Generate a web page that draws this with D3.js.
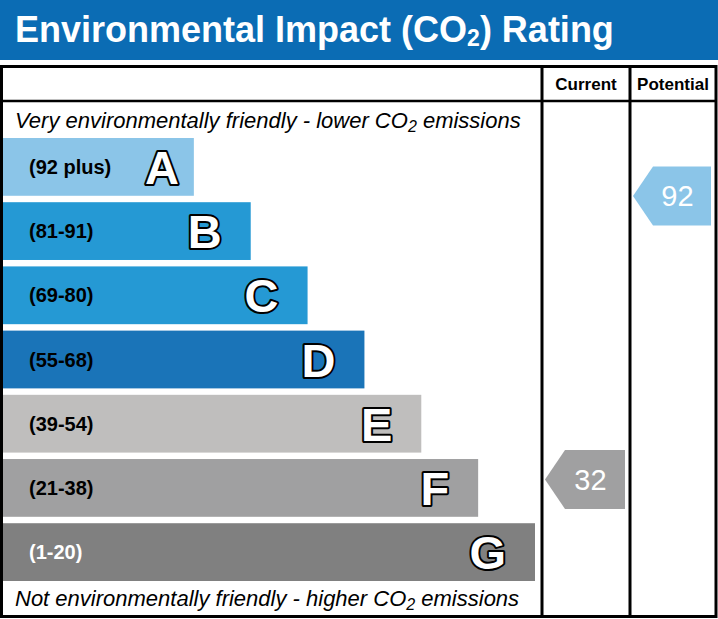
<html>
<head>
<meta charset="utf-8">
<style>
  body { margin: 0; background: #fff; }
  svg text { font-family: "Liberation Sans", Arial, sans-serif; }
</style>
</head>
<body>
<div id="chartContainer"></div>
<script src="https://cdn.jsdelivr.net/npm/d3@7"></script>
<script type="text/javascript">
  // bands, top (best) to bottom (worst)
  var bandLetters = ["A", "B", "C", "D", "E", "F", "G"];
  var bandRanges = ["(92 plus)", "(81-91)", "(69-80)", "(55-68)", "(39-54)", "(21-38)", "(1-20)"];
  var bandLengths = [1, 2, 3, 4, 5, 6, 7];
  var bandColors = ["#8bc5e8", "#2599d4", "#2599d4", "#1a74b8", "#bfbebd", "#a0a0a1", "#808080"];

  // ratings shown in the two right hand columns
  var columns = ["Current", "Potential"];
  var ratingValues = [32, 92];
  var ratingBands = ["F", "A"];

  var W = 718, H = 619;
  var svg = d3.select("#chartContainer").append("svg")
    .attr("width", W).attr("height", H);

  // title band
  svg.append("rect").attr("x", 0).attr("y", 0).attr("width", W).attr("height", 60)
    .attr("fill", "#0b6cb4");
  var title = svg.append("text").attr("x", 15).attr("y", 42)
    .attr("fill", "#fff").style("font-size", "36px").style("font-weight", "bold");
  title.append("tspan").text("Environmental Impact (CO");
  title.append("tspan").attr("dy", 4).style("font-size", "23px").text("2");
  title.append("tspan").attr("dy", -4).text(") Rating");

  // scales
  var y = d3.scaleBand().domain(bandLetters).range([138, 581]).paddingInner(0.1).paddingOuter(0);
  var x = d3.scaleLinear().domain([0, 7]).range([137, 535]);
  var col = function (c) { return c === "Current" ? [542, 630] : c === "Potential" ? [630, 716] : [1, 542]; };
  var scoreY = d3.scaleLinear().domain([0, 100]).range([630.7, 158.2]);

  // bars
  var bars = svg.selectAll("g.band").data(bandLetters).enter().append("g").attr("class", "band");
  bars.append("rect")
    .attr("x", 2)
    .attr("y", function (d) { return y(d); })
    .attr("width", function (d, i) { return x(bandLengths[i]) - 2; })
    .attr("height", y.bandwidth())
    .attr("fill", function (d, i) { return bandColors[i]; });
  bars.append("text")
    .attr("x", 29)
    .attr("y", function (d) { return y(d) + y.bandwidth() / 2 + 7; })
    .style("font-size", "20px").style("font-weight", "bold")
    .attr("fill", function (d, i) { return i === 6 ? "#fff" : "#000"; })
    .text(function (d, i) { return bandRanges[i]; });
  bars.append("text")
    .attr("x", function (d, i) { return x(bandLengths[i]) - (d === "A" ? 15 : 29); })
    .attr("y", function (d) { return y(d) + y.bandwidth() / 2 + 17; })
    .attr("text-anchor", "end")
    .style("font-size", "47px").style("font-weight", "bold")
    .attr("fill", "#fff").attr("stroke", "#000").attr("stroke-width", 4)
    .attr("stroke-linejoin", "round")
    .style("paint-order", "stroke")
    .text(function (d) { return d; });

  // top and bottom captions
  var topCap = svg.append("text").attr("x", 15).attr("y", 128)
    .style("font-size", "22px").style("font-style", "italic");
  topCap.append("tspan").text("Very environmentally friendly - lower CO");
  topCap.append("tspan").attr("dy", 4).style("font-size", "16px").text("2");
  topCap.append("tspan").attr("dy", -4).text(" emissions");
  var botCap = svg.append("text").attr("x", 15).attr("y", 606)
    .style("font-size", "22px").style("font-style", "italic");
  botCap.append("tspan").text("Not environmentally friendly - higher CO");
  botCap.append("tspan").attr("dy", 4).style("font-size", "16px").text("2");
  botCap.append("tspan").attr("dy", -4).text(" emissions");

  // table grid
  var grid = svg.append("g").attr("fill", "none").attr("stroke", "#000").attr("stroke-width", 3);
  grid.append("rect").attr("x", 1.5).attr("y", 66.5).attr("width", 714.5).attr("height", 550);
  grid.append("line").attr("x1", 1.5).attr("x2", 716).attr("y1", 101).attr("y2", 101).attr("stroke-width", 2.5);
  columns.forEach(function (c) {
    grid.append("line").attr("x1", col(c)[0]).attr("x2", col(c)[0]).attr("y1", 66.5).attr("y2", 616.5);
  });

  // column headings
  svg.selectAll("text.colhead").data(columns).enter().append("text")
    .attr("class", "colhead")
    .attr("x", function (c) { return (col(c)[0] + col(c)[1]) / 2; })
    .attr("y", 90)
    .attr("text-anchor", "middle")
    .style("font-size", "17px").style("font-weight", "bold")
    .text(function (c) { return c; });

  // rating arrows
  columns.forEach(function (c, i) {
    var cx = col(c), v = ratingValues[i];
    var cy = scoreY(v), h = 59, left = cx[0] + 3, right = cx[1] - 5, tip = 20;
    var fill = bandColors[bandLetters.indexOf(ratingBands[i])];
    svg.append("path")
      .attr("d", d3.line()([[left, cy], [left + tip, cy - h / 2], [right, cy - h / 2],
                           [right, cy + h / 2], [left + tip, cy + h / 2]]) + "Z")
      .attr("fill", fill);
    svg.append("text")
      .attr("x", (left + right) / 2 + 5.5)
      .attr("y", cy + 10)
      .attr("text-anchor", "middle")
      .attr("fill", "#fff")
      .style("font-size", "29px")
      .text(v);
  });
</script>
</body>
</html>
